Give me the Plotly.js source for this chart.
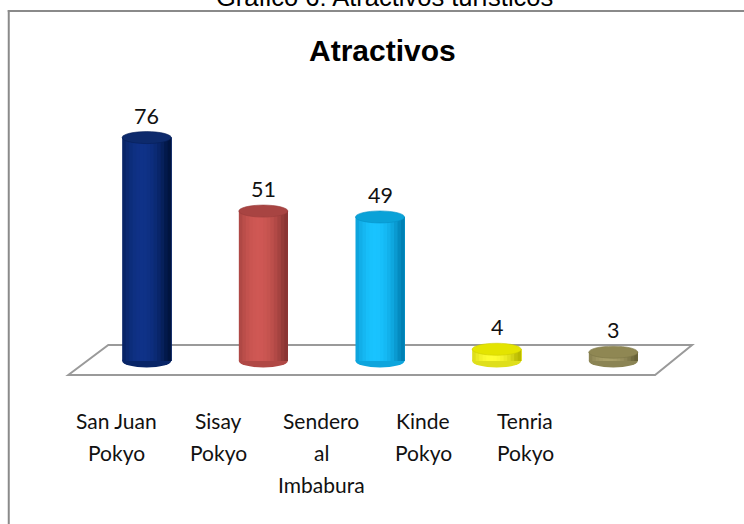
<!DOCTYPE html>
<html>
<head>
<meta charset="utf-8">
<script src="https://cdn.plot.ly/plotly-3.0.1.min.js"></script>
<style>html,body{margin:0;padding:0;background:#fff;}#chart{width:744px;height:524px;}</style>
</head>
<body>
<div id="chart"></div>
<script>
// ---- data ----
const categories = ["San Juan Pokyo", "Sisay Pokyo", "Sendero al Imbabura", "Kinde Pokyo", "Tenria Pokyo"];
const tickLabels = [["San Juan", "Pokyo"], ["Sisay", "Pokyo"], ["Sendero", "al", "Imbabura"], ["Kinde", "Pokyo"], ["Tenria", "Pokyo"]];
const values = [76, 51, 49, 4, 3];
const chartTitle = "Atractivos";
const caption = "Gráfico 6: Atractivos turísticos";

// ---- styles ----
const lightCols = ["#0f3288", "#cf5854", "#19c3ff", "#ffff33", "#a89f6a"];
const darkCols  = ["#00143f", "#8a3533", "#0080b4", "#b8b800", "#686238"];
const topCols   = ["#0d2a6c", "#a84442", "#0aa2d8", "#e4e400", "#8f8753"];

const W = 744, H = 524, ML = 29.75, MR = 14, MT = 100, MB = 134;
const pxX = p => (p - ML) / (W - ML - MR);
const pxY = p => (H - MB - p) / (H - MT - MB);

const BW = 0.42, N = 14;
function hex2rgb(h){return [1,3,5].map(i=>parseInt(h.substr(i,2),16));}
function mix(a,b,t){const A=hex2rgb(a),B=hex2rgb(b);return 'rgb('+A.map((v,i)=>Math.round(v+(B[i]-v)*t)).join(',')+')';}

const xs = categories.map((c,i)=>i);
const traces = [];
for (let s = 0; s < N; s++) {
  const u = (s + 0.5) / N;
  let l = Math.cos((u - 0.4) * Math.PI * 0.95);
  l = Math.max(0, l);
  l = Math.pow(l, 0.8);
  const cols = categories.map((c,i)=>mix(darkCols[i], lightCols[i], l));
  traces.push({
    type: 'bar', x: xs, y: values,
    offset: -BW/2 + s*BW/N, width: BW - s*BW/N,
    marker: {color: cols, line: {width: 0}},
    hoverinfo: 'skip', showlegend: false
  });
}

const shapes = [];
// floor
shapes.push({type:'path', xref:'x', yref:'y', layer:'below',
  path:'M -0.672 -4.76 L -0.329 5.44 L 4.675 5.44 L 4.358 -4.76 Z',
  line:{color:'#9a9a9a', width:2}, fillcolor:'rgba(255,255,255,0)'});
// bottom ellipses
categories.forEach((c,i)=>{
  shapes.push({type:'circle', xref:'x', yref:'y', layer:'below', ysizemode:'pixel', yanchor:0,
    x0:i-BW/2, x1:i+BW/2, y0:-6.5, y1:6.5,
    fillcolor: mix(darkCols[i], lightCols[i], 0.55), line:{width:0}});
});
// top ellipses
categories.forEach((c,i)=>{
  shapes.push({type:'circle', xref:'x', yref:'y', layer:'above', ysizemode:'pixel', yanchor:values[i],
    x0:i-BW/2, x1:i+BW/2, y0:-6, y1:6,
    fillcolor: topCols[i], line:{color: mix(darkCols[i], topCols[i], 0.5), width:0.6}});
});
// frame border (left and top)
shapes.push({type:'line', xref:'paper', yref:'paper', x0:pxX(8.5), x1:pxX(8.5), y0:pxY(10), y1:pxY(560), line:{color:'#8a8a8a', width:2}});
shapes.push({type:'line', xref:'paper', yref:'paper', x0:pxX(7.5), x1:pxX(760), y0:pxY(11), y1:pxY(11), line:{color:'#8a8a8a', width:2}});

const annotations = [];
annotations.push({text: caption, xref:'paper', yref:'paper', x:pxX(384), y:pxY(13), xanchor:'center', yanchor:'bottom',
  showarrow:false, font:{family:'Liberation Sans, Arial, sans-serif', size:25.5, color:'#000'}});
annotations.push({text: '<b>' + chartTitle + '</b>', xref:'paper', yref:'paper', x:pxX(382.5), y:pxY(50), xanchor:'center', yanchor:'middle',
  showarrow:false, font:{family:'Liberation Sans, Arial, sans-serif', size:30, color:'#000'}});
values.forEach((v,i)=>{
  annotations.push({text: String(v), xref:'x', yref:'y', x:i, y:v, xanchor:'center', yanchor:'bottom', yshift:7,
    showarrow:false, font:{family:'Lato, Carlito, sans-serif', size:21.5, color:'#111'}});
});
const lineY = [420, 452.5, 485];
tickLabels.forEach((lines,i)=>{
  lines.forEach((t,j)=>{
    annotations.push({text:t, xref:'paper', yref:'paper', x:pxX(116.5 + i*102.2), y:pxY(lineY[j]), xanchor:'center', yanchor:'middle',
      showarrow:false, font:{family:'Lato, Carlito, sans-serif', size:21, color:'#111'}});
  });
});

const layout = {
  width: W, height: H,
  margin: {l: ML, r: MR, t: MT, b: MB, pad: 0},
  paper_bgcolor: '#fff', plot_bgcolor: 'rgba(0,0,0,0)',
  barmode: 'overlay', showlegend: false,
  xaxis: {range: [-1, 5], showgrid:false, zeroline:false, showline:false, showticklabels:false, ticks:'', fixedrange:true},
  yaxis: {range: [-9.86, 88.78], showgrid:false, zeroline:false, showline:false, showticklabels:false, ticks:'', fixedrange:true},
  shapes: shapes, annotations: annotations
};
Plotly.newPlot('chart', traces, layout, {staticPlot: true, displayModeBar: false});
</script>
</body>
</html>
